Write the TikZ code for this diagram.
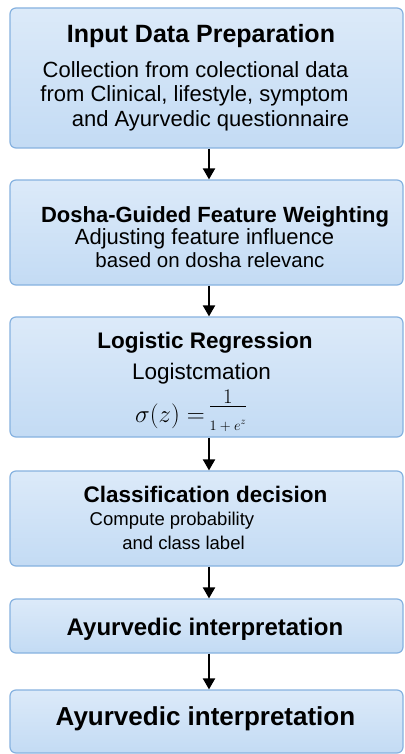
\documentclass[tikz,border=0pt]{standalone}
\usepackage{amsmath}
\usepackage{fontspec}
\setmainfont{Liberation Sans}
\usetikzlibrary{arrows.meta}
\definecolor{boxtop}{HTML}{DCEAF9}
\definecolor{boxbot}{HTML}{C3DBF4}
\definecolor{boxline}{HTML}{86B2E0}
\tikzset{
  stage/.style={draw=boxline, line width=1.2pt, rounded corners=6pt,
    top color=boxtop, bottom color=boxbot, minimum width=393pt, inner sep=0pt},
  ttl/.style={anchor=base, inner sep=0pt, font=\bfseries\fontsize{#1}{#1}\selectfont},
  txt/.style={anchor=base, inner sep=0pt, font=\fontsize{#1}{#1}\selectfont},
  flow/.style={line width=2pt, -{Triangle[width=12pt,length=11pt]}}
}
\begin{document}
\begin{tikzpicture}[x=1pt,y=-1pt]
\useasboundingbox (0,0) rectangle (404,754);
\fill[white] (0,0) rectangle (404,754);
% boxes
\node[stage, minimum height=140pt] (b1) at (206.5,78) {};
\node[stage, minimum height=105pt] (b2) at (206.5,232.5) {};
\node[stage, minimum height=120pt] (b3) at (206.5,377) {};
\node[stage, minimum height=95pt] (b4) at (206.5,518.5) {};
\node[stage, minimum height=54pt] (b5) at (206.5,626) {};
\node[stage, minimum height=63pt] (b6) at (206.5,721.5) {};
% texts
\node[ttl=25] (t1) at (201,43) {Input Data Preparation};
\node[txt=22] (t1a) at (195.5,78) {Collection from colectional data};
\node[txt=22] (t1b) at (194.5,102) {from Clinical, lifestyle, symptom};
\node[txt=22] (t1c) at (210.5,127) {and Ayurvedic questionnaire};
\node[ttl=22] (t2) at (215,222) {Dosha-Guided Feature Weighting};
\node[txt=22] (t2a) at (204.5,244) {Adjusting feature influence};
\node[txt=20.5] (t2b) at (210,267) {based on dosha relevanc};
\node[ttl=22.5] (t3) at (205,348) {Logistic Regression};
\node[txt=22.5] (t3a) at (201.5,379) {Logistcmation};
% formula sigma(z) = 1/(1+e^z)
\node[anchor=base east, inner sep=0pt, font=\fontsize{24.88}{25}\selectfont] (t3b) at (205,422)
  {$\sigma(z)=$};
\node[anchor=base, inner sep=0pt, font=\fontsize{20.74}{21}\selectfont] (t3n) at (228,403) {$1$};
\node[anchor=base, inner sep=0pt, font=\fontsize{14.4}{15}\selectfont] (t3d) at (228,430) {$1+e^{z}$};
\draw[line width=1pt] (210,406.5) -- (246,406.5);
\node[ttl=22.5] (t4) at (205.5,502) {Classification decision};
\node[txt=18.5] (t4a) at (172,525) {Compute probability};
\node[txt=18.5] (t4b) at (183.5,549) {and class label};
\node[ttl=24] (t5) at (205,635) {Ayurvedic interpretation};
\node[ttl=26] (t6) at (205.5,725) {Ayurvedic interpretation};
% connectors
\coordinate (ax) at (209,0);
\draw[flow] (b1.south -| ax) -- (b2.north -| ax);
\draw[flow] (b2.south -| ax) -- (b3.north -| ax);
\draw[flow] (b3.south -| ax) -- (b4.north -| ax);
\draw[flow] (b4.south -| ax) -- (b5.north -| ax);
\draw[flow] (b5.south -| ax) -- (b6.north -| ax);
\end{tikzpicture}
\end{document}
